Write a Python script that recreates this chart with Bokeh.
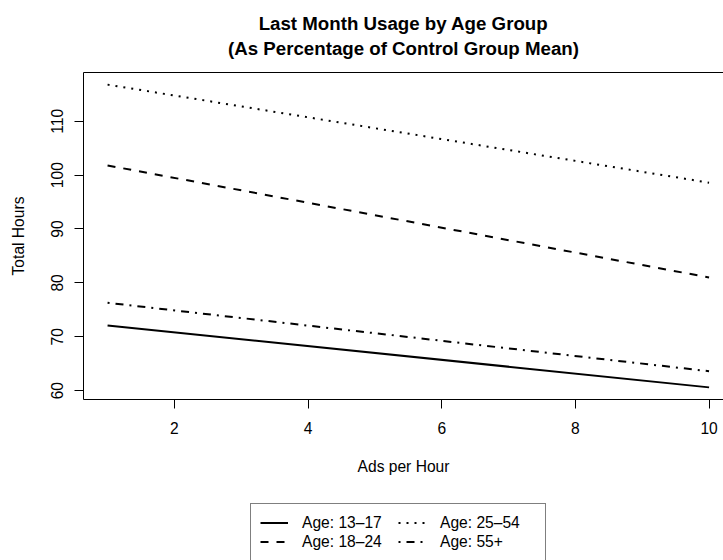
from bokeh.plotting import figure
from bokeh.models import Range1d, FixedTicker, LinearAxis, Title, Legend, LegendItem
from bokeh.layouts import column
from bokeh.embed import file_html
from bokeh.resources import INLINE

# ---- data ----
ads_per_hour = [1, 10]
age_13_17 = [72.1, 60.6]
age_18_24 = [101.8, 81.0]
age_25_54 = [116.8, 98.6]
age_55_plus = [76.3, 63.6]
x_ticks = [2, 4, 6, 8, 10]
y_ticks = [60, 70, 80, 90, 100, 110]
labels = ["Age: 13\u201317", "Age: 18\u201324", "Age: 25\u201354", "Age: 55+"]
title_line1 = "Last Month Usage by Age Group"
title_line2 = "(As Percentage of Control Group Mean)"

FONT = "Liberation Sans"
dashes = ["solid", "8 8", "2 6", "2 6 8 6"]
series = [age_13_17, age_18_24, age_25_54, age_55_plus]

p = figure(width=723, height=480, output_backend="svg", toolbar_location=None,
           x_range=Range1d(0.64, 10.216), y_range=Range1d(58.35, 119.05),
           min_border_left=83, min_border_right=0, min_border_top=72,
           min_border_bottom=81)
p.xgrid.visible = False
p.ygrid.visible = False
p.outline_line_color = None
p.background_fill_color = "white"
p.border_fill_color = "white"

for ax in (p.xaxis[0], p.yaxis[0]):
    ax.major_tick_in = 0
    ax.major_tick_out = 9
    ax.minor_tick_in = 0
    ax.minor_tick_out = 0
    ax.axis_line_color = "black"
    ax.major_tick_line_color = "black"
    ax.major_label_text_font = FONT
    ax.major_label_text_font_size = "15.6px"
    ax.major_label_text_color = "black"
    ax.axis_label_text_font = FONT
    ax.axis_label_text_font_size = "15.6px"
    ax.axis_label_text_font_style = "normal"
    ax.axis_label_text_color = "black"

p.xaxis[0].ticker = FixedTicker(ticks=x_ticks, minor_ticks=[])
p.yaxis[0].ticker = FixedTicker(ticks=y_ticks, minor_ticks=[])
p.xaxis[0].axis_label = "Ads per Hour"
p.yaxis[0].axis_label = "Total Hours"
p.xaxis[0].major_label_standoff = 13
p.xaxis[0].axis_label_standoff = 21
p.yaxis[0].major_label_orientation = "vertical"
p.yaxis[0].major_label_standoff = 11
p.yaxis[0].axis_label_standoff = 22

# top frame line (no ticks)
top_axis = LinearAxis(ticker=FixedTicker(ticks=[], minor_ticks=[]),
                      major_tick_out=0, major_tick_in=0, minor_tick_out=0, minor_tick_in=0,
                      major_label_standoff=0, axis_label_standoff=0,
                      major_tick_line_color=None,
                      axis_line_color="black", major_label_text_font_size="0px")
p.add_layout(top_axis, "above")

t2 = Title(text=title_line2, align="center", offset=5, vertical_align="bottom",
           text_font=FONT, text_font_size="18.7px", text_font_style="bold",
           text_color="black", standoff=28)
t1 = Title(text=title_line1, align="center", offset=5, vertical_align="bottom",
           text_font=FONT, text_font_size="18.7px", text_font_style="bold",
           text_color="black", standoff=-25)
p.add_layout(t2, "above")
p.add_layout(t1, "above")

for ys, d in zip(series, dashes):
    p.line(ads_per_hour, ys, line_color="black", line_width=2, line_dash=d)

# legend panel below the plot (its lines lie outside its view; only the legend shows)
lg = figure(width=723, height=80, output_backend="svg", toolbar_location=None,
            x_axis_type=None, y_axis_type=None,
            x_range=Range1d(0, 1), y_range=Range1d(0, 1),
            min_border_left=0, min_border_right=0, min_border_top=0, min_border_bottom=0)
lg.outline_line_color = None
lg.grid.visible = False
lg.background_fill_color = "white"
lg.border_fill_color = "white"
items = []
for lab, ys, d in zip(labels, series, dashes):
    r = lg.line(ads_per_hour, ys, line_color="black", line_width=2, line_dash=d)
    items.append(LegendItem(label=lab, renderers=[r]))

legend = Legend(items=items, orientation="vertical", nrows=2,
                location=(167, -1),
                glyph_width=28, glyph_height=19, label_height=19, label_width=96,
                label_standoff=14, spacing=0, padding=9, margin=0,
                label_text_font=FONT, label_text_font_size="15.6px",
                label_text_color="black",
                border_line_color="black", border_line_width=1,
                background_fill_color="white", background_fill_alpha=1.0)
lg.add_layout(legend, "center")

open("out.html", "w").write(file_html(column(p, lg, spacing=0), INLINE))
